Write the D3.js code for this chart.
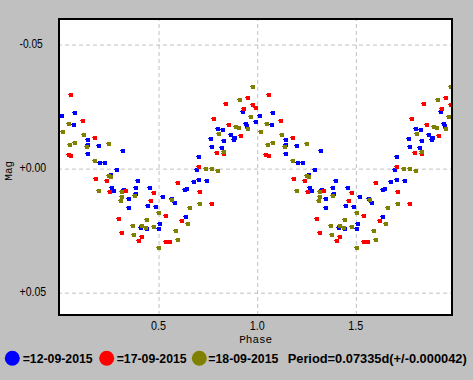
<!DOCTYPE html>
<html><head><meta charset="utf-8">
<script src="https://cdn.jsdelivr.net/npm/d3@7"></script>
<style>
html,body{margin:0;padding:0;background:#c0c0c0;}
svg{display:block;}
</style></head>
<body>
<script>
// ---- data (phase 0..1; the chart shows each point again at phase+1) ----
const seriesNames = ["=12-09-2015", "=17-09-2015", "=18-09-2015"];
const periodLabel = "Period=0.07335d(+/-0.000042)";
const phaseTicks = [0.5, 1.0, 1.5];
const phaseTickLabels = ["0.5", "1.0", "1.5"];
const magTicks = [-0.05, 0.00, 0.05];
const magTickLabels = ["-0.05", "+0.00", "+0.05"];

const s1Phase = [0.0147,0.0806,0.0755,0.1465,0.1465,0.2022,0.1465,0.3239,0.2073,0.2326,0.2935,0.2630,0.2681,0.2783,0.3289,0.3999,0.3867,0.4607,0.3898,0.3528,0.4506,0.4911,0.3528,0.5236,0.5682,0.5859,0.6381,0.6482,0.6807,0.6417,0.5114,0.4151,0.4455,0.5063,0.7091,0.7496,0.6989,0.7091,0.7750,0.8256,0.7699,0.8358,0.8915,0.8865,0.8713,0.8054,0.8307,0.9473,0.9524,0.9321,0.9980];
const s1Mag   = [-0.0211,-0.0224,-0.0175,-0.0115,-0.0095,-0.0091,-0.0058,-0.0070,-0.0022,-0.0022,0.0006,0.0026,0.0079,0.0091,0.0087,0.0053,0.0079,0.0079,0.0103,0.0123,0.0151,0.0155,0.0159,0.0115,0.0123,0.0139,0.0087,0.0083,0.0054,0.0199,0.0224,0.0240,0.0244,0.0244,0.0046,0.0050,0.0006,-0.0046,-0.0087,-0.0083,-0.0119,-0.0111,-0.0123,-0.0115,-0.0135,-0.0159,-0.0155,-0.0179,-0.0171,-0.0228,-0.0187];

const s2Phase = [0.0603,0.1211,0.1820,0.0471,0.0603,0.1870,0.2428,0.2580,0.3391,0.3036,0.3188,0.4810,0.4658,0.6026,0.5418,0.6229,0.4202,0.4050,0.5418,0.5621,0.7141,0.7750,0.7091,0.8003,0.8358,0.9219,0.8611,0.7851,0.8459,0.9372,0.9828,0.9980,0.9574];
const s2Mag   = [-0.0296,-0.0191,-0.0123,-0.0054,-0.0050,0.0042,0.0050,0.0095,0.0091,0.0207,0.0260,0.0099,0.0131,0.0062,0.0191,0.0215,0.0276,0.0292,0.0296,0.0296,0.0095,0.0143,-0.0006,-0.0062,-0.0058,-0.0131,-0.0175,-0.0199,-0.0260,-0.0240,-0.0256,-0.0244,-0.0284];

const s3Phase = [0.0502,0.0198,0.1262,0.0806,0.0552,0.1414,0.2529,0.1820,0.2529,0.2630,0.2022,0.3188,0.3188,0.3137,0.3847,0.5722,0.6635,0.5063,0.6533,0.4455,0.3746,0.4202,0.4404,0.4810,0.5925,0.3796,0.6026,0.5063,0.7141,0.7446,0.7750,0.8054,0.8358,0.8105,0.8966,0.9118,0.9574,0.9726,0.9169,0.9828];
const s3Mag   = [-0.0179,-0.0147,-0.0135,-0.0103,-0.0095,-0.0087,-0.0099,-0.0030,0.0030,0.0035,0.0091,0.0095,0.0115,0.0131,0.0111,0.0127,0.0159,0.0179,0.0224,0.0211,0.0232,0.0232,0.0240,0.0236,0.0252,0.0268,0.0288,0.0320,0.0143,0.0002,0.0002,0.0010,-0.0064,-0.0139,-0.0167,-0.0163,-0.0159,-0.0207,-0.0276,-0.0328];

const colors = ["#0000ff", "#ff0000", "#808000"];

// ---- drawing ----
const W = 473, H = 380;
const svg = d3.select("body").append("svg").attr("width", W).attr("height", H);
svg.append("rect").attr("width", W).attr("height", H).attr("fill", "#c0c0c0");

const x = d3.scaleLinear().domain([0, 2]).range([59.4, 454.0]);
const y = d3.scaleLinear().domain([-0.0605, 0.0592]).range([18, 315]);

const plotL = 58, plotT = 18, plotR = 453, plotB = 315;

svg.append("defs").append("clipPath").attr("id", "clip")
  .append("rect").attr("x", plotL + 1).attr("y", plotT + 1)
  .attr("width", plotR - plotL - 2).attr("height", plotB - plotT - 2);

svg.append("rect").attr("x", plotL).attr("y", plotT)
  .attr("width", plotR - plotL).attr("height", plotB - plotT).attr("fill", "#ffffff");

// gridlines via axes
const yAxis = d3.axisLeft(y).tickValues(magTicks)
  .tickSize(-(plotR - plotL)).tickFormat((d, i) => magTickLabels[i]);
const gy = svg.append("g").attr("transform", `translate(${plotL},0)`).call(yAxis);
gy.select(".domain").remove();
gy.selectAll(".tick line").attr("stroke", "#c0c0c0").attr("stroke-dasharray", "4,3")
  .attr("transform", "translate(0,0.5)");
gy.selectAll(".tick text")
  .attr("x", 19.5 - plotL).attr("dy", null).attr("y", 3.6)
  .attr("text-anchor", "start")
  .attr("font-family", "'Liberation Sans Narrow', 'Liberation Sans', Arial, sans-serif")
  .attr("font-size", 12.5).attr("fill", "#000")
  .attr("textLength", (d, i) => i === 0 ? 23.3 : 26.7)
  .attr("lengthAdjust", "spacingAndGlyphs");

const xAxis = d3.axisBottom(x).tickValues(phaseTicks)
  .tickSize(-(plotB - plotT)).tickFormat((d, i) => phaseTickLabels[i]);
const gx = svg.append("g").attr("transform", `translate(0,${plotB})`).call(xAxis);
gx.select(".domain").remove();
gx.selectAll(".tick line").attr("stroke", "#c0c0c0").attr("stroke-dasharray", "4,3")
  .attr("transform", "translate(0.5,0)");
gx.selectAll(".tick text")
  .attr("y", 15).attr("dy", null)
  .attr("font-family", "'Liberation Sans Narrow', 'Liberation Sans', Arial, sans-serif")
  .attr("font-size", 12.5).attr("fill", "#000")
  .attr("textLength", 15).attr("lengthAdjust", "spacingAndGlyphs");

// points
const series = [[s1Phase, s1Mag], [s2Phase, s2Mag], [s3Phase, s3Mag]];
const gp = svg.append("g").attr("clip-path", "url(#clip)");
series.forEach(([ph, mg], si) => {
  const pts = [];
  ph.forEach((p, i) => { pts.push([p, mg[i]]); pts.push([p + 1, mg[i]]); });
  const g = gp.append("g").attr("fill", colors[si]);
  g.selectAll("rect.sq").data(pts).join("rect").attr("class", "sq")
    .attr("x", d => Math.round(x(d[0])) - 2).attr("y", d => Math.round(y(d[1])) - 2)
    .attr("width", 4).attr("height", 4);
  g.selectAll("rect.nub").data(pts).join("rect").attr("class", "nub")
    .attr("x", d => Math.round(x(d[0])) - 3).attr("y", d => Math.round(y(d[1])) - 1)
    .attr("width", 1).attr("height", 1);
});

// frame
svg.append("rect").attr("x", plotL + 1).attr("y", plotT + 1)
  .attr("width", plotR - plotL - 2).attr("height", plotB - plotT - 1)
  .attr("fill", "none").attr("stroke", "#000").attr("stroke-width", 2);

// axis titles
svg.append("text").attr("x", 255.7).attr("y", 342.5).attr("text-anchor", "middle")
  .attr("font-family", "'Liberation Mono', 'Courier New', monospace").attr("font-size", 11)
  .attr("fill", "#000").text("Phase");
svg.append("text").attr("transform", "translate(11.5,170.8) rotate(-90)")
  .attr("text-anchor", "middle")
  .attr("font-family", "'Liberation Mono', 'Courier New', monospace").attr("font-size", 11)
  .attr("fill", "#000").text("Mag");

// legend
const legCx = [12.3, 106.7, 199.3];
const legTx = [22.7, 116.7, 208.3];
const legend = svg.append("g");
seriesNames.forEach((n, i) => {
  legend.append("circle").attr("cx", legCx[i]).attr("cy", 358.3).attr("r", 7.5).attr("fill", colors[i]);
  legend.append("text").attr("x", legTx[i]).attr("y", 363.3)
    .attr("font-family", "'Liberation Sans', Arial, sans-serif").attr("font-weight", "bold")
    .attr("font-size", 13).attr("fill", "#000")
    .attr("textLength", 70).attr("lengthAdjust", "spacingAndGlyphs").text(n);
});
legend.append("text").attr("x", 287.7).attr("y", 363.3)
  .attr("font-family", "'Liberation Sans', Arial, sans-serif").attr("font-weight", "bold")
  .attr("font-size", 13).attr("fill", "#000")
  .attr("textLength", 179).attr("lengthAdjust", "spacingAndGlyphs").text(periodLabel);
</script>
</body></html>
